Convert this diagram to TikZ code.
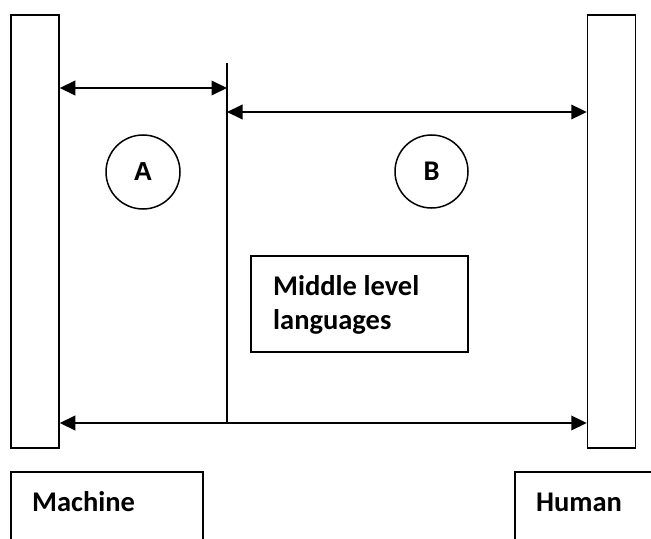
\documentclass[tikz,border=0pt]{standalone}
\usepackage{fontspec}
\setmainfont{Carlito}
\newfontfamily\arialfont{Liberation Sans}
\usetikzlibrary{arrows.meta}
\begin{document}
\begin{tikzpicture}[x=1bp,y=-1bp,
  bar/.style={draw,line width=1.5bp,minimum width=48bp,minimum height=433bp,inner sep=0pt},
  conn/.style={line width=2bp,{Triangle[length=15.5bp,width=14.5bp]}-{Triangle[length=15.5bp,width=14.5bp]}},
  lbl/.style={anchor=base west,inner sep=0pt,font=\fontsize{28.5bp}{34bp}\selectfont\bfseries},
  circ/.style={draw,circle,line width=1.5bp,minimum size=74bp,inner sep=0pt},
  box/.style={draw,line width=1.5bp,inner sep=0pt}]
\path[use as bounding box] (0,0) rectangle (651,539);
% bars
\node[bar] (lbar) at (35,231.5) {};
\node[bar] (rbar) at (611.5,231.5) {};
% vertical divider
\coordinate (vtop) at (227,63);
\coordinate (vbot) at (227,423);
\draw[line width=1.5bp] (vtop) -- (vbot);
% arrow anchors
\coordinate (a1) at (227,88);
\coordinate (a2) at (227,112);
\draw[conn] (lbar.east |- a1) -- (a1);
\draw[conn] (a2) -- (rbar.west |- a2);
\draw[conn] (lbar.east |- vbot) -- (rbar.west |- vbot);
% circles
\node[circ,font=\arialfont\fontsize{26bp}{30bp}\selectfont\bfseries] (ca) at (143,172) {A};
\node[circ,minimum size=73bp,font=\fontsize{28.5bp}{34bp}\selectfont\bfseries] (cb) at (431.5,171.5) {B};
% middle box
\node[box,minimum width=217bp,minimum height=96bp] (mid) at (359.5,304) {};
\node[lbl] (m1) at (273,295) {Middle level};
\node[lbl] (m2) at (273,329) {languages};
% bottom boxes
\draw[line width=1.5bp] (11,545) |- (203,472) -- (203,545);
\draw[line width=1.5bp] (515,545) |- (660,472);
\node[lbl] (mach) at (32,511) {Machine};
\node[lbl] (hum) at (536,511) {Human};
\end{tikzpicture}
\end{document}
